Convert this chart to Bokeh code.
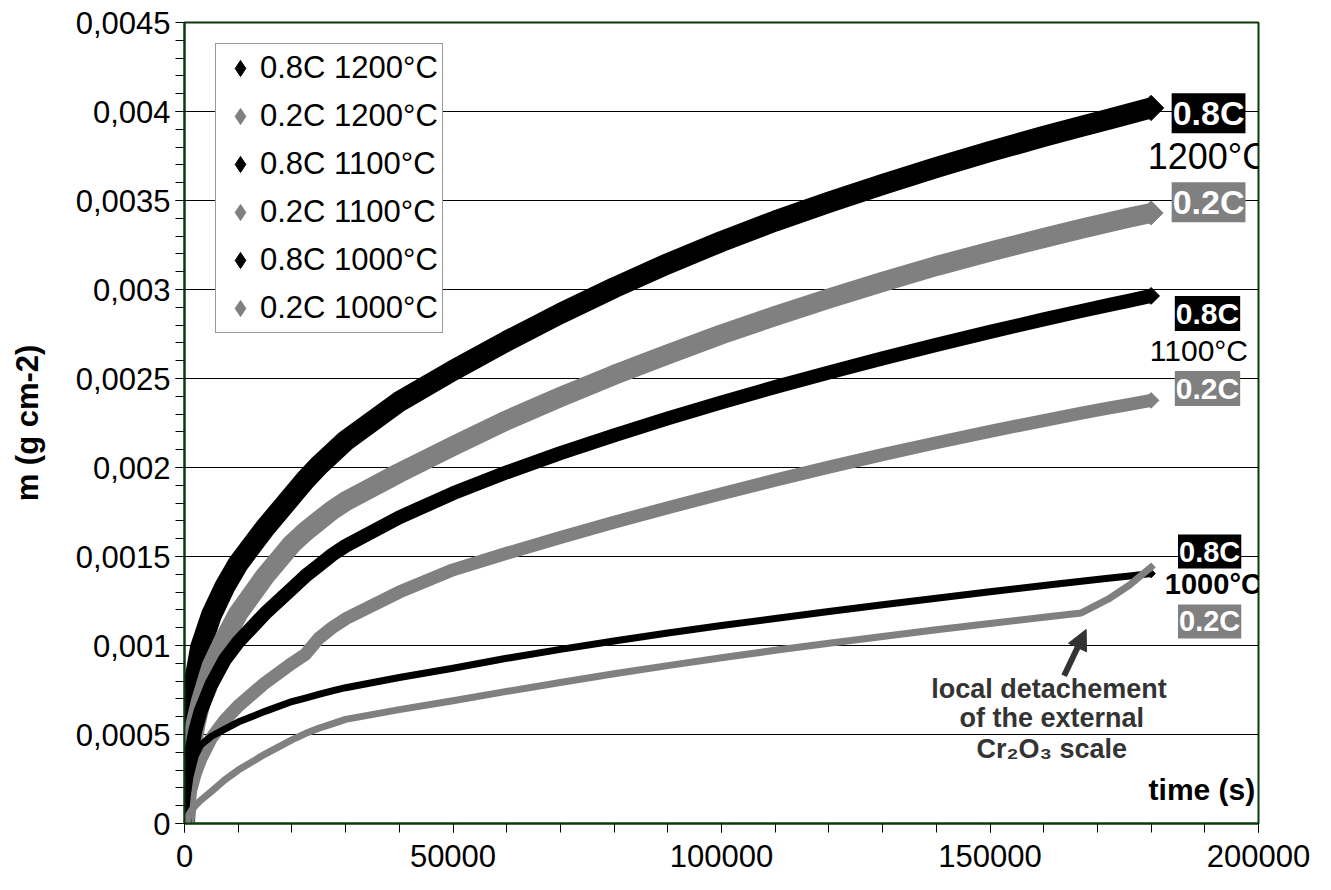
import math
from bokeh.plotting import figure
from bokeh.models import (Range1d, FixedTicker, Legend, LegendItem, Label, Arrow, NormalHead)
from bokeh.embed import file_html
from bokeh.resources import INLINE

# ---------------- data ----------------
TIME_S = [0, 500, 1000, 2000, 3000, 5000, 7500, 10000, 15000, 20000, 22500, 25000, 27500,
          30000, 40000, 50000, 60000, 70000, 80000, 90000, 100000, 110000, 120000, 130000,
          140000, 150000, 160000, 167000, 172000, 176000, 180000]

M_08C_1200 = [0, 0.0004, 0.00058, 0.00082, 0.00099, 0.00117, 0.00133, 0.00146, 0.00166, 0.00184,
              0.00193, 0.00201, 0.00208, 0.00215, 0.00237, 0.002545, 0.00271, 0.002865, 0.00301,
              0.003145, 0.00327, 0.003385, 0.00349, 0.00359, 0.003685, 0.003775, 0.00386, 0.003916,
              0.003956, 0.003988, 0.00402]
M_02C_1200 = [0, 0.0002, 0.00036, 0.00055, 0.00068, 0.00088, 0.00104, 0.00118, 0.00139, 0.00157,
              0.00164, 0.0017, 0.00176, 0.00181, 0.00197, 0.00212, 0.002265, 0.002396, 0.00252,
              0.002636, 0.002748, 0.002851, 0.00295, 0.003043, 0.003132, 0.003213, 0.003289,
              0.003341, 0.003376, 0.003404, 0.00343]
M_08C_1100 = [0, 0.00022, 0.00036, 0.00052, 0.00063, 0.00078, 0.00092, 0.00102, 0.00118, 0.00132,
              0.00139, 0.00145, 0.00151, 0.00156, 0.00172, 0.001855, 0.001973, 0.002081, 0.002181,
              0.002276, 0.002366, 0.002452, 0.002534, 0.002613, 0.002689, 0.002762, 0.002832,
              0.002879, 0.002912, 0.002938, 0.002964]
M_02C_1100 = [0, 0.0001, 0.00017, 0.00028, 0.00036, 0.00048, 0.00058, 0.00066, 0.00079, 0.0009,
              0.00095, 0.00104, 0.0011, 0.00115, 0.0013, 0.001425, 0.001518, 0.001607, 0.001692,
              0.001774, 0.001853, 0.001929, 0.002002, 0.002072, 0.002139, 0.002203, 0.002264,
              0.002305, 0.002333, 0.002355, 0.002377]
M_08C_1000 = [0, 0.00015, 0.00026, 0.00038, 0.00044, 0.00049, 0.00053, 0.00057, 0.00063, 0.000685,
              0.000705, 0.000725, 0.000745, 0.000763, 0.00082, 0.000872, 0.000928, 0.000978, 0.001025,
              0.00107, 0.001112, 0.001152, 0.001191, 0.001229, 0.001266, 0.001302, 0.001337,
              0.001361, 0.001378, 0.001391, 0.001404]
M_02C_1000 = [0, 0.00003, 0.00006, 0.0001, 0.00013, 0.00018, 0.000245, 0.0003, 0.00039, 0.00047,
              0.000505, 0.000535, 0.00056, 0.000585, 0.00064, 0.00069, 0.000742, 0.000792, 0.000841,
              0.000887, 0.000931, 0.000973, 0.001013, 0.001051, 0.001088, 0.001124, 0.001159,
              0.001183, 0.00126, 0.00134, 0.00144]

SERIES_NAMES = ["0.8C 1200°C", "0.2C 1200°C", "0.8C 1100°C", "0.2C 1100°C", "0.8C 1000°C", "0.2C 1000°C"]
SERIES_VALUES = [M_08C_1200, M_02C_1200, M_08C_1100, M_02C_1100, M_08C_1000, M_02C_1000]

X_TICKS = [0, 50000, 100000, 150000, 200000]
X_TICK_LABELS = ["0", "50000", "100000", "150000", "200000"]
Y_TICKS = [0, 0.0005, 0.001, 0.0015, 0.002, 0.0025, 0.003, 0.0035, 0.004, 0.0045]
Y_TICK_LABELS = ["0", "0,0005", "0,001", "0,0015", "0,002", "0,0025", "0,003", "0,0035", "0,004", "0,0045"]

# ---------------- styles ----------------
COLORS = ["#000000", "#808080", "#000000", "#808080", "#000000", "#808080"]
WIDTHS = [21, 20, 14, 13, 7, 7]
FONT = "Liberation Sans"
FRAME_GREEN = "#0b3a0b"

p = figure(width=1325, height=886, output_backend="svg", toolbar_location=None,
           x_range=Range1d(0, 200000), y_range=Range1d(0, 0.0045),
           min_border_left=184, min_border_right=67, min_border_top=22, min_border_bottom=63)
p.background_fill_color = "white"
p.border_fill_color = "white"
p.outline_line_color = FRAME_GREEN
p.outline_line_width = 2

# axes
p.xaxis.ticker = FixedTicker(ticks=X_TICKS, minor_ticks=[i * 10000 for i in range(21)])
p.xaxis.major_label_overrides = dict(zip(X_TICKS, X_TICK_LABELS))
p.yaxis.ticker = FixedTicker(ticks=Y_TICKS, minor_ticks=[i * 0.0001 for i in range(46)])
p.yaxis.major_label_overrides = dict(zip(Y_TICKS, Y_TICK_LABELS))
for ax in (p.xaxis[0], p.yaxis[0]):
    ax.axis_line_color = FRAME_GREEN
    ax.axis_line_width = 2
    ax.major_tick_line_color = "black"
    ax.minor_tick_line_color = "black"
    ax.major_tick_in = 0
    ax.minor_tick_in = 0
    ax.major_tick_out = 9
    ax.minor_tick_out = 9
    ax.major_label_text_font = FONT
    ax.major_label_text_font_size = "31px"
    ax.major_label_text_color = "black"
p.xaxis.major_label_standoff = 12
p.yaxis.major_label_standoff = 5
p.yaxis.axis_label = "m (g cm-2)"
p.yaxis.axis_label_text_font = FONT
p.yaxis.axis_label_text_font_size = "31px"
p.yaxis.axis_label_text_font_style = "bold"
p.yaxis.axis_label_text_color = "black"
p.yaxis.axis_label_standoff = 28

p.xgrid.visible = False
p.ygrid.ticker = FixedTicker(ticks=Y_TICKS)
p.ygrid.grid_line_color = "black"
p.ygrid.grid_line_width = 1

# series
legend_items = []
for name, vals, col, w in zip(SERIES_NAMES, SERIES_VALUES, COLORS, WIDTHS):
    p.line(TIME_S, vals, line_color=col, line_width=w, line_join="round", line_cap="butt")
    p.scatter([TIME_S[-1]], [vals[-1]], marker="square", angle=math.pi / 4,
              size=w * 0.85, fill_color=col, line_color=col)
    r0 = p.scatter([TIME_S[0]], [vals[0]], marker="diamond", size=w * 1.3,
                   fill_color=col, line_color=col)
    legend_items.append(LegendItem(label=name, renderers=[r0]))

legend = Legend(items=legend_items, location=(31, 490))
legend.label_text_font = FONT
legend.label_text_font_size = "31px"
legend.label_text_color = "black"
legend.glyph_width = 40
legend.glyph_height = 40
legend.label_standoff = 0
legend.spacing = 8
legend.padding = 4
legend.margin = 0
legend.border_line_color = "#333333"
legend.border_line_width = 1
legend.background_fill_color = "white"
legend.background_fill_alpha = 1
p.add_layout(legend, "center")

# right-side series labels
def tag(x, y, text, bg, fs):
    p.add_layout(Label(x=x, y=y, text=text, text_color="white", text_font=FONT,
                       text_font_style="bold", text_font_size=fs, text_align="center",
                       text_baseline="middle", background_fill_color=bg, padding=1))

def plain(x, y, text, fs, style="normal", color="black", align="center"):
    p.add_layout(Label(x=x, y=y, text=text, text_color=color, text_font=FONT,
                       text_font_style=style, text_font_size=fs, text_align=align,
                       text_baseline="middle"))

tag(190700, 0.00399, "0.8C", "black", "34px")
plain(190600, 0.00375, "1200°C", "36px")
tag(190700, 0.00349, "0.2C", "#808080", "34px")

tag(190500, 0.002865, "0.8C", "black", "30px")
plain(188900, 0.002657, "1100°C", "30px")
tag(190500, 0.002444, "0.2C", "#808080", "30px")

tag(190900, 0.001528, "0.8C", "black", "29px")
plain(191600, 0.001343, "1000°C", "29px", style="bold")
tag(190900, 0.001135, "0.2C", "#808080", "29px")

# annotation about the 0.2C 1000°C curve
ANN = "#333333"
plain(161000, 0.000753, "local detachement", "27px", style="bold", color=ANN)
plain(161500, 0.000590, "of the external", "27px", style="bold", color=ANN)
plain(161500, 0.000421, "Cr₂O₃ scale", "27px", style="bold", color=ANN)
p.add_layout(Arrow(end=NormalHead(size=20, fill_color=ANN, line_color=ANN),
                   x_start=163800, y_start=0.00083, x_end=167900, y_end=0.00109,
                   line_color=ANN, line_width=6))

plain(199400, 0.000191, "time (s)", "30px", style="bold", align="right")

open("out.html", "w").write(file_html(p, INLINE))
